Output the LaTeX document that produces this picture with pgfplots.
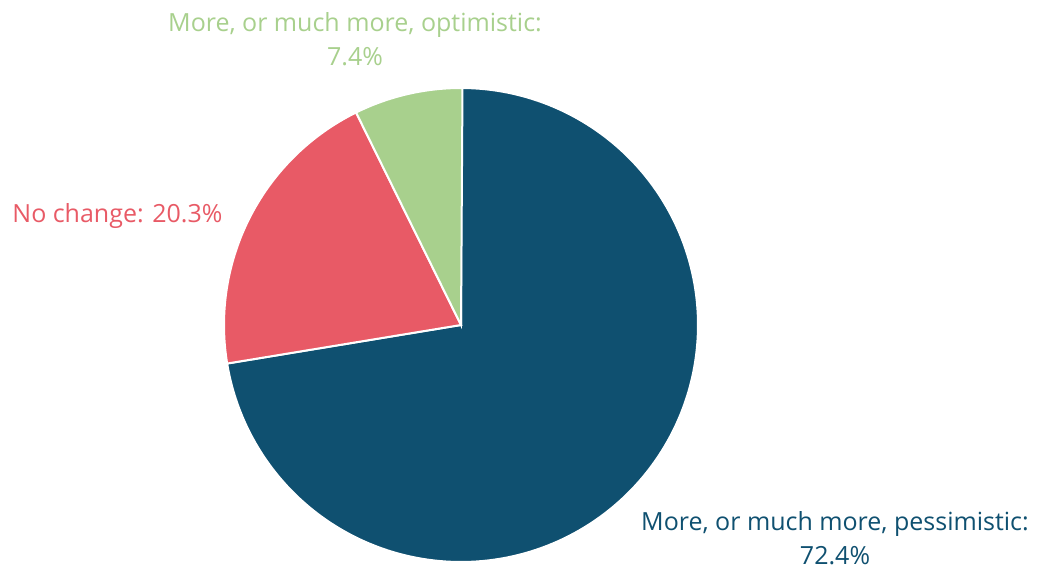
\documentclass[border=0pt]{standalone}
\usepackage{pgfplots}
\pgfplotsset{compat=1.18}
\usepackage{fontspec}
\setmainfont{Open Sans}
\definecolor{cBlue}{HTML}{0F5070}
\definecolor{cRed}{HTML}{E85A66}
\definecolor{cGreen}{HTML}{A8D08D}
% data (percent)
\def\vPess{72.4}
\def\vNoch{20.3}
\def\vOpt{7.4}
\begin{document}
\begin{tikzpicture}
\pgfmathsetmacro{\aA}{90}
\pgfmathsetmacro{\aB}{90-3.6*\vPess}
\pgfmathsetmacro{\aC}{\aB-3.6*\vNoch}
\pgfmathsetmacro{\aD}{\aC-3.6*\vOpt}
\begin{axis}[
  scale only axis, width=519.5pt, height=284pt,
  xmin=0, xmax=1039, ymin=0, ymax=568,
  hide axis, clip=false,
  font=\fontsize{12.5}{15}\selectfont,
]
\path (rel axis cs:0,0) rectangle (rel axis cs:1,1);
\addplot[fill=cBlue, draw=white, line width=1pt, domain=\aA:\aB, samples=180]
  ({461+237*cos(x)},{243+237*sin(x)}) -- (461,243) -- cycle;
\addplot[fill=cRed, draw=white, line width=1pt, domain=\aB:\aC, samples=80]
  ({461+237*cos(x)},{243+237*sin(x)}) -- (461,243) -- cycle;
\addplot[fill=cGreen, draw=white, line width=1pt, domain=\aC:\aD, samples=40]
  ({461+237*cos(x)},{243+237*sin(x)}) -- (461,243) -- cycle;
\node[anchor=base, text=cGreen, inner sep=0pt] at (355,536) {More, or much more, optimistic:};
\node[anchor=base, text=cGreen, inner sep=0pt] at (355,502) {7.4\%};
\node[anchor=base west, text=cRed, inner sep=0pt] at (12,345) {No change: 20.3\%};
\node[anchor=base, text=cBlue, inner sep=0pt] at (835,38) {More, or much more, pessimistic:};
\node[anchor=base, text=cBlue, inner sep=0pt] at (835,4) {72.4\%};
\end{axis}
\end{tikzpicture}
\end{document}
